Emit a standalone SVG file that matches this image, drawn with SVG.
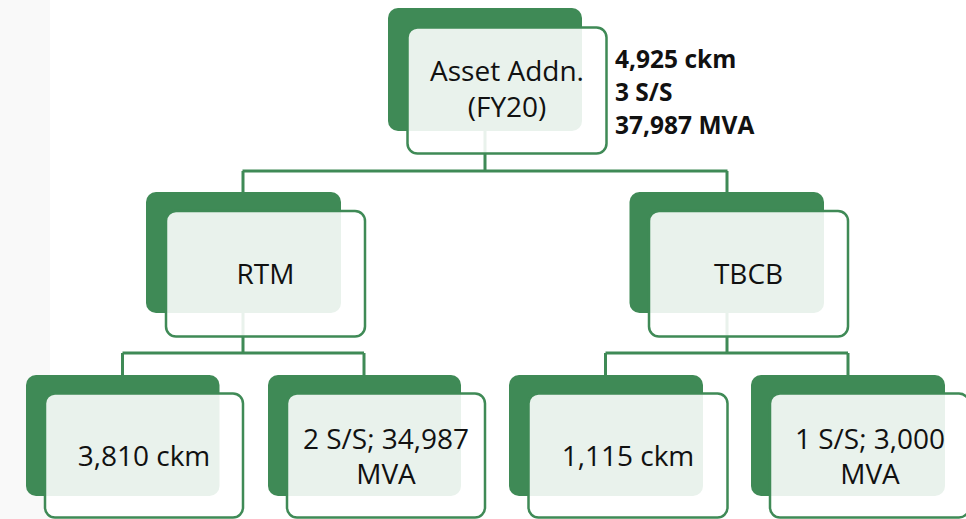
<svg xmlns="http://www.w3.org/2000/svg" width="966" height="519" viewBox="0 0 966 519">
<style>
.bg{fill:#ffffff}
.strip{fill:#f9f9f9}
.back{fill:#3f8a56}
.front{fill:#ffffff;fill-opacity:0.885;stroke:#3f8a56;stroke-width:2.5}
.conn{fill:none;stroke:#3f8a56;stroke-width:3}
.lbl{font-family:"Open Sans","Liberation Sans",Arial,sans-serif;font-size:28px;fill:#111111;text-anchor:middle}
.side{font-family:"Open Sans","Liberation Sans",Arial,sans-serif;font-size:24.5px;font-weight:bold;fill:#111111}
</style>
<rect class="bg" x="0" y="0" width="966" height="519"/>
<rect class="strip" x="0" y="0" width="50" height="519"/>
<g id="connectors">
<path class="conn" d="M485,131 V171 M242.5,171 H727.5 M243,171 V192 M727,171 V192"/>
<path class="conn" d="M243,313 V353 M122.5,353 H364 M122.5,353 V375 M364,353 V375"/>
<path class="conn" d="M727,313 V353 M605.5,353 H848 M605.5,353 V375 M848,353 V375"/>
</g>
<g id="node-top">
<rect class="back" x="388" y="8" width="194" height="123" rx="10"/>
<rect class="front" x="407.5" y="27.5" width="199" height="126" rx="10"/>
<text class="lbl" x="507" y="81"><tspan x="507" y="81">Asset Addn.</tspan><tspan x="507" y="116.5">(FY20)</tspan></text>
</g>
<g id="top-stats">
<text class="side" x="615" y="68"><tspan x="615" y="68">4,925 ckm</tspan><tspan x="615" y="101">3 S/S</tspan><tspan x="615" y="134">37,987 MVA</tspan></text>
</g>
<g id="node-rtm">
<rect class="back" x="146" y="192" width="195" height="121" rx="10"/>
<rect class="front" x="166" y="211" width="199" height="125.5" rx="10"/>
<text class="lbl" x="265.5" y="283.5">RTM</text>
</g>
<g id="node-tbcb">
<rect class="back" x="629.5" y="192" width="194.5" height="121" rx="10"/>
<rect class="front" x="649" y="211" width="199" height="125.5" rx="10"/>
<text class="lbl" x="748.5" y="283.5">TBCB</text>
</g>
<g id="node-rtm-ckm">
<rect class="back" x="26" y="375" width="193.5" height="121" rx="10"/>
<rect class="front" x="45" y="393.5" width="198" height="124" rx="10"/>
<text class="lbl" x="144" y="466">3,810 ckm</text>
</g>
<g id="node-rtm-mva">
<rect class="back" x="268" y="375" width="193" height="121" rx="10"/>
<rect class="front" x="287" y="393.5" width="198" height="124" rx="10"/>
<text class="lbl" x="386" y="448.5"><tspan x="386" y="448.5">2 S/S; 34,987</tspan><tspan x="386" y="483.5">MVA</tspan></text>
</g>
<g id="node-tbcb-ckm">
<rect class="back" x="509" y="375" width="194" height="121" rx="10"/>
<rect class="front" x="528.5" y="393.5" width="199" height="124" rx="10"/>
<text class="lbl" x="628" y="466">1,115 ckm</text>
</g>
<g id="node-tbcb-mva">
<rect class="back" x="751" y="375" width="194" height="121" rx="10"/>
<rect class="front" x="770" y="393.5" width="199" height="124" rx="10"/>
<text class="lbl" x="870" y="448.5"><tspan x="870" y="448.5">1 S/S; 3,000</tspan><tspan x="870" y="483.5">MVA</tspan></text>
</g>
</svg>
